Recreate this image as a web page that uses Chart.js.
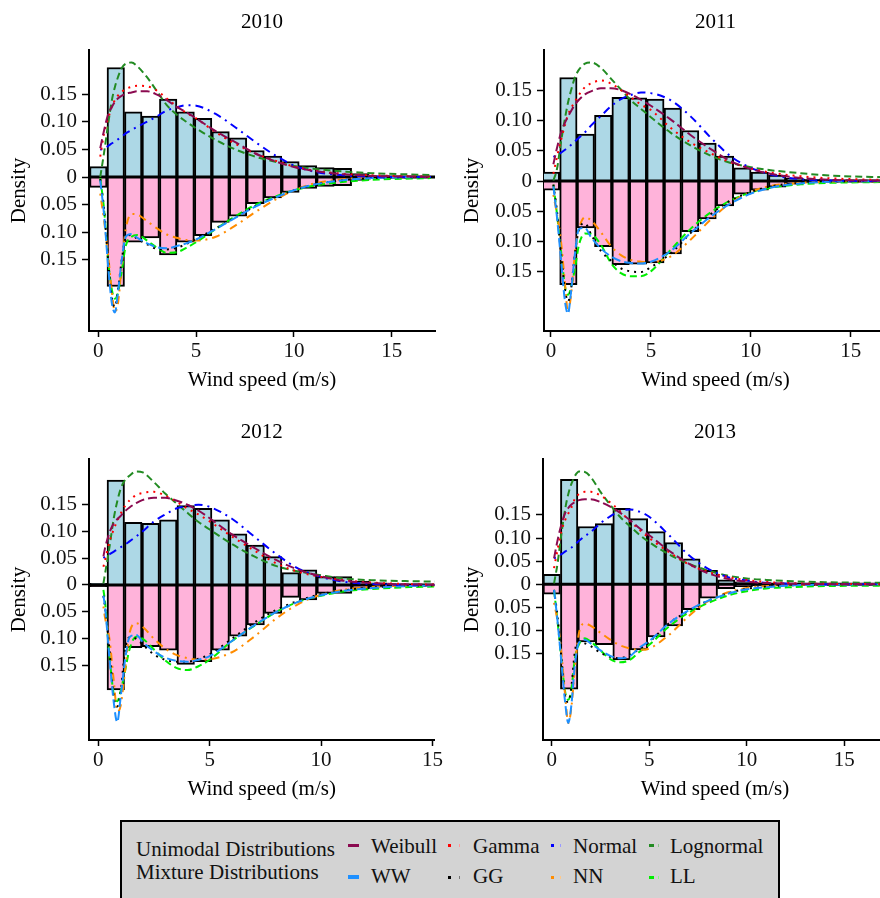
<!DOCTYPE html>
<html><head><meta charset="utf-8">
<script src="https://cdn.jsdelivr.net/npm/chart.js@4.4.0/dist/chart.umd.min.js"></script>
<style>
html,body{margin:0;padding:0;background:#fff;overflow:hidden;width:880px;height:898px}
#wrap{position:relative;width:880px;height:898px;overflow:hidden;background:#fff}
canvas{position:absolute}
.lg{position:absolute;font-family:"Liberation Serif","Times New Roman",serif;font-size:21px;line-height:21px;color:#111;white-space:nowrap}
.key{position:absolute}
#legendBox{position:absolute;left:120px;top:820px;width:660px;height:92px;box-sizing:border-box;border:2px solid #000;background:#D3D3D3}
</style></head><body>
<div id="wrap">
<canvas id="c2010" width="445" height="400" style="left:0px;top:0px"></canvas>
<canvas id="c2011" width="445" height="400" style="left:450px;top:0px"></canvas>
<canvas id="c2012" width="445" height="400" style="left:0px;top:409px"></canvas>
<canvas id="c2013" width="445" height="400" style="left:450px;top:409px"></canvas>
<div id="legendBox"></div>
<div class="lg" style="left:136px;top:839px">Unimodal Distributions</div>
<div class="lg" style="left:136px;top:862px">Mixture Distributions</div>
<div class="key" style="left:348px;top:843.5px;width:11px;height:3.5px;background:#8B0A50"></div>
<div class="key" style="left:348px;top:875px;width:11px;height:3.5px;background:#1E90FF"></div>
<div class="key" style="left:448px;top:844px;width:3px;height:3px;background:#FF0000"></div>
<div class="key" style="left:459px;top:844px;width:1px;height:3px;background:#FF9A9A"></div>
<div class="key" style="left:448px;top:876px;width:3px;height:3px;background:#000"></div>
<div class="key" style="left:459px;top:876px;width:1px;height:3px;background:#777"></div>
<div class="key" style="left:551px;top:844px;width:3px;height:3px;background:#0000FF"></div>
<div class="key" style="left:560px;top:844px;width:1px;height:3px;background:#9A9AFF"></div>
<div class="key" style="left:551px;top:876px;width:3px;height:3px;background:#FF8C00"></div>
<div class="key" style="left:560px;top:876px;width:1px;height:3px;background:#FFC98A"></div>
<div class="key" style="left:649px;top:844px;width:5px;height:3px;background:#228B22"></div>
<div class="key" style="left:658px;top:844px;width:1px;height:3px;background:#8FC58F"></div>
<div class="key" style="left:649px;top:876px;width:5px;height:3px;background:#00EE00"></div>
<div class="key" style="left:658px;top:876px;width:1px;height:3px;background:#8AF58A"></div>
<div class="lg" style="left:371px;top:836px">Weibull</div>
<div class="lg" style="left:371px;top:866px">WW</div>
<div class="lg" style="left:473px;top:836px">Gamma</div>
<div class="lg" style="left:473px;top:866px">GG</div>
<div class="lg" style="left:573px;top:836px">Normal</div>
<div class="lg" style="left:573px;top:866px">NN</div>
<div class="lg" style="left:670px;top:836px">Lognormal</div>
<div class="lg" style="left:670px;top:866px">LL</div>
</div>
<script>
// ---------------- DATA ----------------
const YEARS = ['2010', '2011', '2012', '2013'];
const UNIMODAL = ['Weibull', 'Gamma', 'Normal', 'Lognormal'];
const MIXTURE = ['WW', 'GG', 'NN', 'LL'];
const X_TICKS = [0, 5, 10, 15];
const Y_TICKS = [-0.15, -0.10, -0.05, 0, 0.05, 0.10, 0.15];
const Y_TICK_LABELS = ['0.15', '0.10', '0.05', '0', '0.05', '0.10', '0.15'];
const X_TITLE = 'Wind speed (m/s)';
const Y_TITLE = 'Density';

// histogram densities (mirrored below the zero line)
const BINW_2010 = 0.893;
const HIST_2010 = [0.0187, 0.198, 0.118, 0.110, 0.141, 0.118, 0.106, 0.082, 0.071, 0.048, 0.038, 0.028, 0.0205, 0.017, 0.0157, 0.006];
const BINW_2011 = 0.871;
const HIST_2011 = [0.015, 0.172, 0.078, 0.109, 0.139, 0.138, 0.136, 0.121, 0.084, 0.063, 0.0415, 0.022, 0.015, 0.010, 0.005, 0.003, 0.0015];
const BINW_2012 = 0.785;
const HIST_2012 = [0.003, 0.195, 0.1165, 0.1146, 0.121, 0.1475, 0.1425, 0.121, 0.095, 0.074, 0.0527, 0.023, 0.028, 0.0155, 0.0155, 0.0074, 0.004];
const BINW_2013 = 0.895;
const HIST_2013 = [0.0216, 0.227, 0.125, 0.131, 0.164, 0.142, 0.114, 0.09, 0.055, 0.03, 0.0095, 0.005, 0.003, 0.002, 0.0015];

// wind speeds at which the fitted densities were read
const GRID_2010 = [0.1, 0.3, 0.5, 0.7, 0.85, 1.0, 1.2, 1.4, 1.7, 2.0, 2.5, 3.0, 3.5, 4.0, 4.5, 5.0, 6.0, 7.0, 8.0, 9.0, 10.0, 11.0, 12.5, 14.0, 17.0];
const GRID_2011 = [0.12, 0.3, 0.5, 0.7, 0.85, 1.0, 1.2, 1.4, 1.7, 2.0, 2.5, 3.0, 3.5, 4.0, 4.5, 5.0, 6.0, 7.0, 8.0, 9.0, 10.0, 11.0, 12.5, 14.0, 17.0];
const GRID_2012 = [0.23, 0.3, 0.5, 0.7, 0.85, 1.0, 1.2, 1.4, 1.7, 2.0, 2.5, 3.0, 3.5, 4.0, 4.5, 5.0, 6.0, 7.0, 8.0, 9.0, 10.0, 11.0, 12.5, 14.0, 17.0];
const GRID_2013 = [0.12, 0.3, 0.5, 0.7, 0.85, 1.0, 1.2, 1.4, 1.7, 2.0, 2.5, 3.0, 3.5, 4.0, 4.5, 5.0, 6.0, 7.0, 8.0, 9.0, 10.0, 11.0, 12.5, 14.0, 17.0];

// 2010
const WEIBULL_2010 = [0.052, 0.085, 0.113, 0.127, 0.136, 0.142, 0.147, 0.151, 0.153, 0.155, 0.155, 0.149, 0.139, 0.127, 0.117, 0.106, 0.083, 0.063, 0.043, 0.029, 0.018, 0.011, 0.005, 0.002, 0.0003];
const GAMMA_2010 = [0.037, 0.08, 0.105, 0.128, 0.139, 0.147, 0.154, 0.159, 0.163, 0.165, 0.164, 0.156, 0.142, 0.128, 0.116, 0.106, 0.081, 0.06, 0.043, 0.03, 0.019, 0.012, 0.006, 0.003, 0.0005];
const NORMAL_2010 = [0.049, 0.052, 0.056, 0.061, 0.064, 0.068, 0.073, 0.079, 0.085, 0.091, 0.1, 0.11, 0.12, 0.126, 0.13, 0.129, 0.114, 0.09, 0.064, 0.04, 0.021, 0.01, 0.003, 0.0006, 0];
const LOGNORMAL_2010 = [0.0, 0.045, 0.095, 0.14, 0.163, 0.18, 0.197, 0.205, 0.207, 0.2, 0.18, 0.155, 0.13, 0.113, 0.1, 0.088, 0.067, 0.05, 0.037, 0.028, 0.02, 0.015, 0.01, 0.007, 0.0035];
const WW_2010 = [-0.006, -0.07, -0.16, -0.23, -0.245, -0.21, -0.15, -0.108, -0.103, -0.11, -0.12, -0.127, -0.129, -0.125, -0.12, -0.113, -0.094, -0.074, -0.054, -0.038, -0.024, -0.014, -0.006, -0.002, 0];
const GG_2010 = [-0.004, -0.06, -0.15, -0.22, -0.235, -0.205, -0.15, -0.11, -0.105, -0.112, -0.122, -0.13, -0.131, -0.128, -0.121, -0.112, -0.093, -0.073, -0.053, -0.037, -0.024, -0.014, -0.006, -0.002, 0];
const NN_2010 = [-0.03, -0.08, -0.14, -0.21, -0.243, -0.23, -0.16, -0.095, -0.067, -0.068, -0.08, -0.093, -0.104, -0.11, -0.114, -0.115, -0.108, -0.088, -0.064, -0.042, -0.024, -0.012, -0.004, -0.001, 0];
const LL_2010 = [-0.002, -0.06, -0.15, -0.205, -0.22, -0.21, -0.17, -0.125, -0.108, -0.105, -0.115, -0.128, -0.137, -0.136, -0.128, -0.118, -0.094, -0.071, -0.051, -0.036, -0.024, -0.016, -0.009, -0.005, -0.002];

// 2011
const WEIBULL_2011 = [0.028, 0.055, 0.08, 0.097, 0.107, 0.116, 0.127, 0.135, 0.144, 0.149, 0.154, 0.154, 0.151, 0.144, 0.135, 0.125, 0.102, 0.076, 0.053, 0.033, 0.02, 0.012, 0.005, 0.002, 0.0004];
const GAMMA_2011 = [0.012, 0.04, 0.068, 0.093, 0.11, 0.121, 0.132, 0.143, 0.156, 0.162, 0.167, 0.162, 0.151, 0.139, 0.127, 0.118, 0.088, 0.064, 0.046, 0.031, 0.021, 0.014, 0.008, 0.0045, 0.0015];
const NORMAL_2011 = [0.04, 0.043, 0.047, 0.052, 0.056, 0.06, 0.066, 0.072, 0.081, 0.092, 0.108, 0.124, 0.136, 0.143, 0.147, 0.146, 0.134, 0.107, 0.072, 0.041, 0.022, 0.011, 0.003, 0.0007, 0];
const LOGNORMAL_2011 = [0.001, 0.02, 0.065, 0.104, 0.13, 0.15, 0.172, 0.185, 0.195, 0.197, 0.188, 0.17, 0.152, 0.134, 0.12, 0.106, 0.08, 0.059, 0.042, 0.03, 0.023, 0.018, 0.013, 0.009, 0.006];
const WW_2011 = [-0.009, -0.06, -0.13, -0.2, -0.22, -0.185, -0.12, -0.08, -0.078, -0.093, -0.112, -0.125, -0.133, -0.136, -0.137, -0.134, -0.116, -0.086, -0.059, -0.037, -0.021, -0.011, -0.004, -0.001, 0];
const GG_2011 = [-0.006, -0.05, -0.12, -0.18, -0.2, -0.18, -0.12, -0.08, -0.07, -0.088, -0.116, -0.132, -0.145, -0.15, -0.151, -0.143, -0.12, -0.086, -0.055, -0.032, -0.018, -0.009, -0.003, -0.001, 0];
const NN_2011 = [-0.023, -0.055, -0.1, -0.17, -0.218, -0.19, -0.12, -0.08, -0.06, -0.065, -0.085, -0.108, -0.123, -0.131, -0.134, -0.135, -0.125, -0.097, -0.064, -0.036, -0.018, -0.008, -0.003, -0.001, 0];
const LL_2011 = [-0.006, -0.055, -0.115, -0.175, -0.189, -0.177, -0.145, -0.106, -0.087, -0.088, -0.106, -0.136, -0.153, -0.158, -0.158, -0.15, -0.114, -0.079, -0.052, -0.032, -0.019, -0.011, -0.0055, -0.003, -0.0015];

// 2012
const WEIBULL_2012 = [0.053, 0.068, 0.097, 0.115, 0.122, 0.128, 0.137, 0.144, 0.152, 0.158, 0.162, 0.162, 0.157, 0.149, 0.138, 0.124, 0.094, 0.069, 0.046, 0.028, 0.016, 0.008, 0.003, 0.001, 0.0002];
const GAMMA_2012 = [0.034, 0.045, 0.08, 0.104, 0.119, 0.132, 0.147, 0.157, 0.167, 0.171, 0.173, 0.166, 0.155, 0.142, 0.131, 0.118, 0.09, 0.064, 0.04, 0.024, 0.015, 0.009, 0.004, 0.0015, 0.0003];
const NORMAL_2012 = [0.05, 0.052, 0.057, 0.062, 0.066, 0.07, 0.075, 0.081, 0.09, 0.1, 0.118, 0.131, 0.142, 0.147, 0.149, 0.145, 0.123, 0.09, 0.057, 0.03, 0.015, 0.006, 0.0015, 0.0003, 0];
const LOGNORMAL_2012 = [0.003, 0.02, 0.07, 0.125, 0.155, 0.178, 0.195, 0.203, 0.211, 0.209, 0.191, 0.17, 0.152, 0.134, 0.117, 0.103, 0.076, 0.053, 0.035, 0.025, 0.018, 0.012, 0.0085, 0.007, 0.0055];
const WW_2012 = [-0.02, -0.04, -0.135, -0.22, -0.255, -0.21, -0.14, -0.097, -0.093, -0.106, -0.123, -0.135, -0.141, -0.1425, -0.139, -0.132, -0.104, -0.075, -0.05, -0.031, -0.019, -0.011, -0.005, -0.002, -0.0005];
const GG_2012 = [-0.02, -0.04, -0.12, -0.21, -0.226, -0.2, -0.121, -0.097, -0.1, -0.111, -0.129, -0.139, -0.1425, -0.1425, -0.137, -0.129, -0.1, -0.07, -0.046, -0.029, -0.017, -0.01, -0.004, -0.0015, 0];
const NN_2012 = [-0.04, -0.06, -0.1, -0.18, -0.235, -0.225, -0.16, -0.09, -0.071, -0.078, -0.1, -0.118, -0.13, -0.136, -0.139, -0.138, -0.125, -0.096, -0.062, -0.035, -0.018, -0.009, -0.003, -0.001, 0];
const LL_2012 = [-0.009, -0.03, -0.13, -0.205, -0.216, -0.198, -0.16, -0.12, -0.096, -0.1, -0.12, -0.14, -0.154, -0.158, -0.151, -0.139, -0.104, -0.076, -0.05, -0.031, -0.02, -0.012, -0.007, -0.004, -0.002];

// 2013
const WEIBULL_2013 = [0.056, 0.095, 0.13, 0.155, 0.165, 0.172, 0.178, 0.182, 0.184, 0.184, 0.178, 0.168, 0.155, 0.139, 0.121, 0.106, 0.073, 0.045, 0.024, 0.012, 0.0055, 0.0025, 0.001, 0.0003, 0];
const GAMMA_2013 = [0.035, 0.075, 0.115, 0.14, 0.153, 0.165, 0.186, 0.195, 0.2, 0.2, 0.192, 0.177, 0.158, 0.137, 0.118, 0.1, 0.07, 0.044, 0.027, 0.016, 0.009, 0.005, 0.002, 0.001, 0.0002];
const NORMAL_2013 = [0.056, 0.06, 0.065, 0.071, 0.075, 0.079, 0.086, 0.094, 0.104, 0.113, 0.132, 0.147, 0.158, 0.162, 0.157, 0.146, 0.107, 0.064, 0.034, 0.016, 0.008, 0.003, 0.0008, 0.0002, 0];
const LOGNORMAL_2013 = [0.002, 0.045, 0.11, 0.165, 0.195, 0.216, 0.235, 0.244, 0.243, 0.232, 0.2, 0.172, 0.146, 0.126, 0.107, 0.091, 0.065, 0.045, 0.03, 0.019, 0.0125, 0.0094, 0.0062, 0.0045, 0.003];
const WW_2013 = [-0.012, -0.08, -0.17, -0.26, -0.3, -0.265, -0.17, -0.126, -0.12, -0.128, -0.143, -0.155, -0.16, -0.156, -0.137, -0.123, -0.085, -0.057, -0.036, -0.021, -0.011, -0.0065, -0.002, -0.001, 0];
const GG_2013 = [-0.012, -0.07, -0.16, -0.245, -0.255, -0.225, -0.142, -0.125, -0.128, -0.134, -0.148, -0.157, -0.16, -0.153, -0.14, -0.125, -0.085, -0.058, -0.036, -0.02, -0.01, -0.005, -0.002, -0.0005, 0];
const NN_2013 = [-0.04, -0.08, -0.15, -0.245, -0.3, -0.27, -0.175, -0.105, -0.085, -0.09, -0.105, -0.12, -0.132, -0.139, -0.142, -0.139, -0.11, -0.07, -0.037, -0.018, -0.008, -0.004, -0.001, -0.0003, 0];
const LL_2013 = [-0.012, -0.08, -0.165, -0.235, -0.25, -0.23, -0.157, -0.13, -0.117, -0.124, -0.143, -0.162, -0.169, -0.164, -0.146, -0.131, -0.092, -0.062, -0.041, -0.025, -0.015, -0.009, -0.006, -0.004, -0.003];

// ---------------- STYLES / LAYOUT ----------------
const STYLE = {
  Weibull:   { color: '#8B0A50', dash: [9, 4] },
  Gamma:     { color: '#FF0000', dash: [2, 5] },
  Normal:    { color: '#0000FF', dash: [2, 5, 8, 5] },
  Lognormal: { color: '#228B22', dash: [7, 4] },
  WW:        { color: '#1E90FF', dash: [9, 4] },
  GG:        { color: '#000000', dash: [2, 5] },
  NN:        { color: '#FF8C00', dash: [2, 5, 8, 5] },
  LL:        { color: '#00EE00', dash: [7, 4] }
};

const PANELS = {
  '2010': { canvas: 'c2010', yW: 89, padR: 10, xmin: -0.475, xmax: 17.21, ymin: -0.2785, ymax: 0.2297, yTitlePad: 7, titleY: 22.5,
            hist: HIST_2010, binw: BINW_2010, grid: GRID_2010,
            curves: { Weibull: WEIBULL_2010, Gamma: GAMMA_2010, Normal: NORMAL_2010, Lognormal: LOGNORMAL_2010, WW: WW_2010, GG: GG_2010, NN: NN_2010, LL: LL_2010 } },
  '2011': { canvas: 'c2011', yW: 94, padR: 8, xmin: -0.35, xmax: 16.82, ymin: -0.249, ymax: 0.2176, yTitlePad: 10, titleY: 22.5,
            hist: HIST_2011, binw: BINW_2011, grid: GRID_2011,
            curves: { Weibull: WEIBULL_2011, Gamma: GAMMA_2011, Normal: NORMAL_2011, Lognormal: LOGNORMAL_2011, WW: WW_2011, GG: GG_2011, NN: NN_2011, LL: LL_2011 } },
  '2012': { canvas: 'c2012', yW: 89, padR: 10, xmin: -0.417, xmax: 15.09, ymin: -0.288, ymax: 0.234, yTitlePad: 7, titleY: 23,
            hist: HIST_2012, binw: BINW_2012, grid: GRID_2012,
            curves: { Weibull: WEIBULL_2012, Gamma: GAMMA_2012, Normal: NORMAL_2012, Lognormal: LOGNORMAL_2012, WW: WW_2012, GG: GG_2012, NN: NN_2012, LL: LL_2012 } },
  '2013': { canvas: 'c2013', yW: 93, padR: 8, xmin: -0.446, xmax: 17.19, ymin: -0.337, ymax: 0.271, yTitlePad: 10, titleY: 23,
            hist: HIST_2013, binw: BINW_2013, grid: GRID_2013,
            curves: { Weibull: WEIBULL_2013, Gamma: GAMMA_2013, Normal: NORMAL_2013, Lognormal: LOGNORMAL_2013, WW: WW_2013, GG: GG_2013, NN: NN_2013, LL: LL_2013 } }
};

const FONT = '"Liberation Serif", "Times New Roman", serif';
const TXT = { family: FONT, size: 21, weight: 'normal' };
Chart.defaults.font.family = FONT;
Chart.defaults.font.size = 21;
Chart.defaults.color = '#111';

const panelTitlePlugin = {
  id: 'panelTitle',
  afterDraw(chart, args, opts) {
    const a = chart.chartArea, ctx = chart.ctx;
    ctx.save();
    ctx.font = '21px ' + FONT;
    ctx.fillStyle = '#000';
    ctx.textAlign = 'center';
    ctx.textBaseline = 'middle';
    ctx.fillText(opts.text, (a.left + a.right) / 2, opts.y);
    ctx.restore();
  }
};

function buildDatasets(p) {
  const centers = p.hist.map((_, i) => i * p.binw);
  const ds = [];
  ds.push({ type: 'bar', label: 'Histogram (upper)', data: centers.map((x, i) => ({ x, y: p.hist[i] })),
            backgroundColor: '#ADD8E6', borderColor: '#000', borderWidth: 2, grouped: false,
            barPercentage: 1, categoryPercentage: 1, order: 10 });
  ds.push({ type: 'bar', label: 'Histogram (lower)', data: centers.map((x, i) => ({ x, y: -p.hist[i] })),
            backgroundColor: '#FFB3DA', borderColor: '#000', borderWidth: 2, grouped: false,
            barPercentage: 1, categoryPercentage: 1, order: 10 });
  ds.push({ type: 'line', label: 'zero', data: [{ x: p.xmin, y: 0 }, { x: p.xmax, y: 0 }],
            borderColor: '#000', borderWidth: 3, pointRadius: 0, order: 5 });
  UNIMODAL.concat(MIXTURE).forEach(name => {
    const vals = p.curves[name];
    ds.push({ type: 'line', label: name, data: p.grid.map((x, i) => ({ x, y: vals[i] })),
              borderColor: STYLE[name].color, borderDash: STYLE[name].dash, borderWidth: 2,
              pointRadius: 0, fill: false, cubicInterpolationMode: 'monotone', order: 1 });
  });
  return ds;
}

YEARS.forEach(year => {
  const p = PANELS[year];
  new Chart(document.getElementById(p.canvas), {
    type: 'bar',
    data: { datasets: buildDatasets(p) },
    plugins: [panelTitlePlugin],
    options: {
      responsive: false,
      animation: false,
      devicePixelRatio: 1,
      font: TXT,
      layout: { padding: { left: 0, top: 50, right: p.padR, bottom: 0 } },
      plugins: {
        legend: { display: false },
        tooltip: { enabled: false },
        panelTitle: { text: year, y: p.titleY }
      },
      scales: {
        x: {
          type: 'linear', position: 'bottom', min: p.xmin, max: p.xmax, offset: false,
          afterBuildTicks: s => { s.ticks = X_TICKS.map(v => ({ value: v })); },
          afterFit: s => { s.height = 69; },
          ticks: { autoSkip: false, maxRotation: 0, padding: 2, color: '#111', font: TXT, callback: v => String(v) },
          grid: { display: true, drawOnChartArea: false, drawTicks: true, tickLength: 6, tickWidth: 1.5, tickColor: '#000', offset: false },
          border: { display: true, color: '#000', width: 2 },
          title: { display: true, text: X_TITLE, color: '#000', font: TXT, padding: { top: 0, bottom: 7 } }
        },
        y: {
          type: 'linear', position: 'left', min: p.ymin, max: p.ymax,
          afterBuildTicks: s => { s.ticks = Y_TICKS.map(v => ({ value: v })); },
          afterFit: s => { s.width = p.yW; },
          ticks: { autoSkip: false, padding: 5, color: '#111', font: TXT,
                   callback: v => Y_TICK_LABELS[Y_TICKS.indexOf(v)] },
          grid: { display: true, drawOnChartArea: false, drawTicks: true, tickLength: 7, tickWidth: 1.5, tickColor: '#000' },
          border: { display: true, color: '#000', width: 2 },
          title: { display: true, text: Y_TITLE, color: '#000', font: TXT, padding: { top: p.yTitlePad, bottom: 0 } }
        }
      }
    }
  });
});
</script>
</body></html>
